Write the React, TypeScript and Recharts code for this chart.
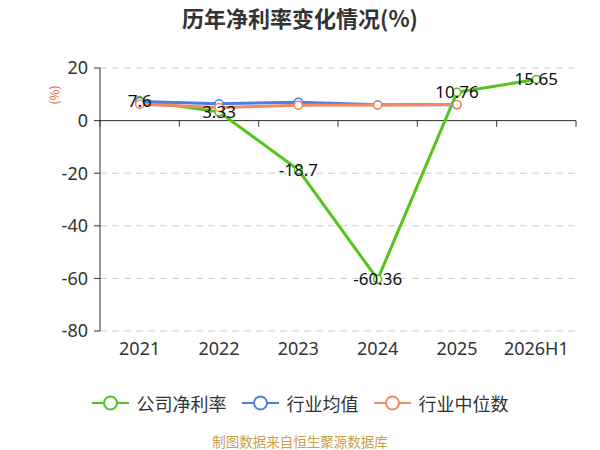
import React from 'react';
import { LineChart, Line, XAxis, YAxis, CartesianGrid, ReferenceLine, LabelList } from 'recharts';

const categories = ['2021', '2022', '2023', '2024', '2025', '2026H1'];
const companyRate = [7.6, 3.33, -18.7, -60.36, 10.76, 15.65];
const industryMean = [7.3, 6.4, 7.0, 6.0, 6.0, null];
const industryMedian = [6.2, 5.0, 5.8, 5.9, 6.1, null];
const yTicks = [-80, -60, -40, -20, 0, 20];
const boundaries = [-0.5, 0.5, 1.5, 2.5, 3.5, 4.5, 5.5];

const GREEN = '#52c41a';
const BLUE = '#4e7de6';
const ORANGE = '#f5895e';
const FONT = '"Noto Sans CJK SC", "Noto Sans", sans-serif';
const NUM_FONT = '"Noto Sans", "Open Sans", sans-serif';

const data = categories.map((c, i) => ({
  idx: i,
  name: c,
  company: companyRate[i],
  mean: industryMean[i],
  median: industryMedian[i],
}));

const legendItems = [
  { label: '公司净利率', color: GREEN },
  { label: '行业均值', color: BLUE },
  { label: '行业中位数', color: ORANGE },
];

function LegendIcon({ color }: { color: string }) {
  return (
    <svg width={37} height={16} style={{ display: 'block' }}>
      <line x1={0} y1={8} x2={37} y2={8} stroke={color} strokeWidth={2} />
      <circle cx={18.5} cy={8} r={6.5} fill="#fff" stroke={color} strokeWidth={2} />
    </svg>
  );
}

function YUnitLabel(props: any) {
  const vb = props.viewBox || { x: 0, y: 0 };
  const cx = vb.x + 13;
  const cy = vb.y + 27;
  return (
    <text
      x={cx}
      y={cy}
      transform={`rotate(-90 ${cx} ${cy})`}
      textAnchor="middle"
      dominantBaseline="central"
      fill="#e8603c"
      fontSize={12}
      fontFamily={FONT}
    >
      (%)
    </text>
  );
}

export default function App() {
  return (
    <div style={{ position: 'absolute', left: 0, top: 0, width: 600, height: 450, background: '#fff', fontFamily: FONT }}>
      <div style={{ position: 'absolute', left: 0, top: 2, width: 600, textAlign: 'center', fontSize: 22, fontWeight: 'bold', color: '#333', lineHeight: '30px' }}>
        历年净利率变化情况(%)
      </div>
      <LineChart width={600} height={450} data={data} margin={{ top: 68, right: 24, bottom: 89, left: 40 }}>
        <CartesianGrid vertical={false} stroke="#cccccc" strokeDasharray="7 5" />
        <XAxis
          dataKey="idx"
          type="number"
          domain={[-0.5, 5.5]}
          ticks={[0, 1, 2, 3, 4, 5]}
          tickFormatter={(v: number) => categories[v] ?? ''}
          axisLine={false}
          tickLine={false}
          height={30}
          tickMargin={5}
          tick={{ fill: '#333', fontSize: 18, fontFamily: NUM_FONT }}
          interval={0}
        />
        <YAxis
          type="number"
          domain={[-80, 20]}
          ticks={yTicks}
          width={60}
          axisLine={{ stroke: '#333', strokeWidth: 1 }}
          tickLine={{ stroke: '#333' }}
          tickSize={6}
          tickMargin={6}
          tick={{ fill: '#333', fontSize: 18, fontFamily: NUM_FONT }}
          label={<YUnitLabel />}
        />
        <ReferenceLine y={0} stroke="#333" strokeWidth={1} />
        {boundaries.map((b) => (
          <ReferenceLine
            key={b}
            segment={[{ x: b, y: 0 }, { x: b, y: -2.3 }]}
            stroke="#333"
            strokeWidth={1}
            ifOverflow="visible"
          />
        ))}
        <Line
          dataKey="company"
          stroke={GREEN}
          strokeWidth={3}
          dot={{ r: 4, fill: '#fff', stroke: GREEN, strokeWidth: 1.5 }}
          isAnimationActive={false}
        />
        <Line
          dataKey="mean"
          stroke={BLUE}
          strokeWidth={3}
          dot={{ r: 4, fill: '#fff', stroke: BLUE, strokeWidth: 1.5 }}
          isAnimationActive={false}
          connectNulls={false}
        />
        <Line
          dataKey="median"
          stroke={ORANGE}
          strokeWidth={3}
          dot={{ r: 4, fill: '#fff', stroke: ORANGE, strokeWidth: 1.5 }}
          isAnimationActive={false}
          connectNulls={false}
        />
        <Line dataKey="company" stroke="none" dot={false} activeDot={false} isAnimationActive={false}>
          <LabelList
            dataKey="company"
            position="center"
            fill="#111"
            fontSize={17}
            fontFamily={NUM_FONT}
            offset={0}
          />
        </Line>
      </LineChart>
      <div style={{ position: 'absolute', left: 0, top: 390, width: 600, display: 'flex', justifyContent: 'center', alignItems: 'center' }}>
        {legendItems.map((it, i) => (
          <div key={it.label} style={{ display: 'flex', alignItems: 'center', marginLeft: i === 0 ? 0 : 15 }}>
            <LegendIcon color={it.color} />
            <span style={{ marginLeft: 8, fontSize: 18, color: '#333', lineHeight: '26px' }}>{it.label}</span>
          </div>
        ))}
      </div>
      <div style={{ position: 'absolute', left: 0, top: 431, width: 600, textAlign: 'center', fontSize: 13.5, color: '#c9a04a', lineHeight: '20px' }}>
        制图数据来自恒生聚源数据库
      </div>
    </div>
  );
}
